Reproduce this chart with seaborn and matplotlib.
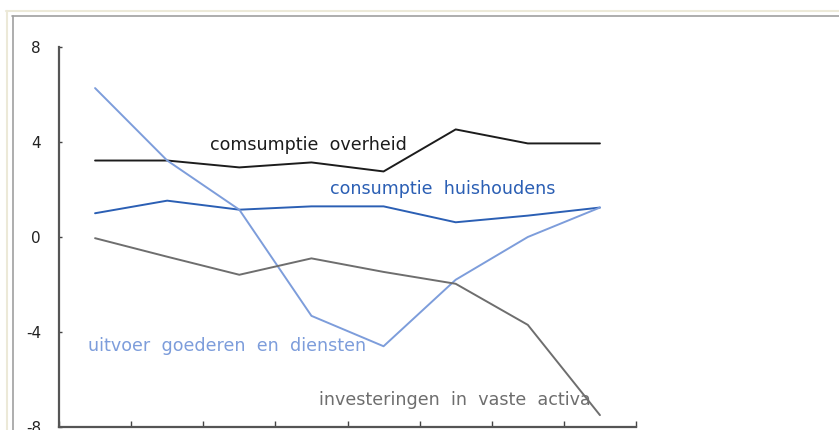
import pandas as pd
import seaborn as sns
import matplotlib.pyplot as plt
from matplotlib.lines import Line2D

# data
jaren = list(range(8))
overheid = [3.22, 3.22, 2.93, 3.14, 2.76, 4.53, 3.94, 3.94]
huishoudens = [1.0, 1.53, 1.15, 1.29, 1.29, 0.62, 0.9, 1.24]
uitvoer = [6.27, 3.22, 1.15, -3.32, -4.6, -1.8, 0.0, 1.24]
investeringen = [-0.05, -0.83, -1.59, -0.9, -1.47, -1.97, -3.7, -7.5]

reeksen = {
    'comsumptie  overheid': overheid,
    'consumptie  huishoudens': huishoudens,
    'uitvoer  goederen  en  diensten': uitvoer,
    'investeringen  in  vaste  activa': investeringen,
}
kleuren = ['#1c1c1c', '#2b5fb4', '#7d9ddb', '#6e6e6e']

df = pd.concat(
    [pd.DataFrame({'jaar': jaren, 'waarde': v, 'reeks': k}) for k, v in reeksen.items()],
    ignore_index=True,
)

sns.set_theme(style="white")
plt.rcParams['font.family'] = ['DejaVu Sans']

fig = plt.figure(figsize=(8.39, 4.30), dpi=100)
ax = fig.add_axes([59 / 839, 3 / 430, 577 / 839, 380 / 430])

sns.lineplot(data=df, x='jaar', y='waarde', hue='reeks', palette=kleuren,
             linewidth=1.4, legend=False, ax=ax)

# labels in the chart itself
labels = [
    (210, 145, 'comsumptie  overheid', kleuren[0]),
    (330, 189, 'consumptie  huishoudens', kleuren[1]),
    (88, 346, 'uitvoer  goederen  en  diensten', kleuren[2]),
    (319, 400, 'investeringen  in  vaste  activa', kleuren[3]),
]
for px, py, s, c in labels:
    fig.text(px / 839, 1 - py / 430, s, color=c, fontsize=12.6,
             ha='left', va='center')

ax.set_xlim(-0.5, 7.5)
ax.set_ylim(-8, 8)
ax.set_xticks([i - 0.5 for i in range(9)])
ax.set_xticklabels([])
ax.set_yticks([-8, -4, 0, 4, 8])
ax.set_yticklabels(['-8', '-4', '0', '4', '8'])
ax.tick_params(axis='x', direction='in', length=4, width=1, color='#444444', bottom=True)
ax.tick_params(axis='y', direction='in', length=2, width=1, color='#444444', left=True,
               pad=13, labelsize=11, labelcolor='#222222')
ax.set_xlabel('')
ax.set_ylabel('')

sns.despine(ax=ax)
for side in ['left', 'bottom']:
    ax.spines[side].set_color('#555555')
    ax.spines[side].set_linewidth(1.6)

# window frame of the original screenshot
fig.add_artist(Line2D([6 / 839, 1], [1 - 10.5 / 430] * 2, color='#ece9d8', lw=1.5))
fig.add_artist(Line2D([6.5 / 839] * 2, [0, 1 - 10.5 / 430], color='#ece9d8', lw=1.5))
fig.add_artist(Line2D([12 / 839, 1], [1 - 15.5 / 430] * 2, color='#a0a0a0', lw=1.2))
fig.add_artist(Line2D([12.5 / 839] * 2, [0, 1 - 15.5 / 430], color='#a0a0a0', lw=1.2))

fig.savefig('out.png', dpi=100)
